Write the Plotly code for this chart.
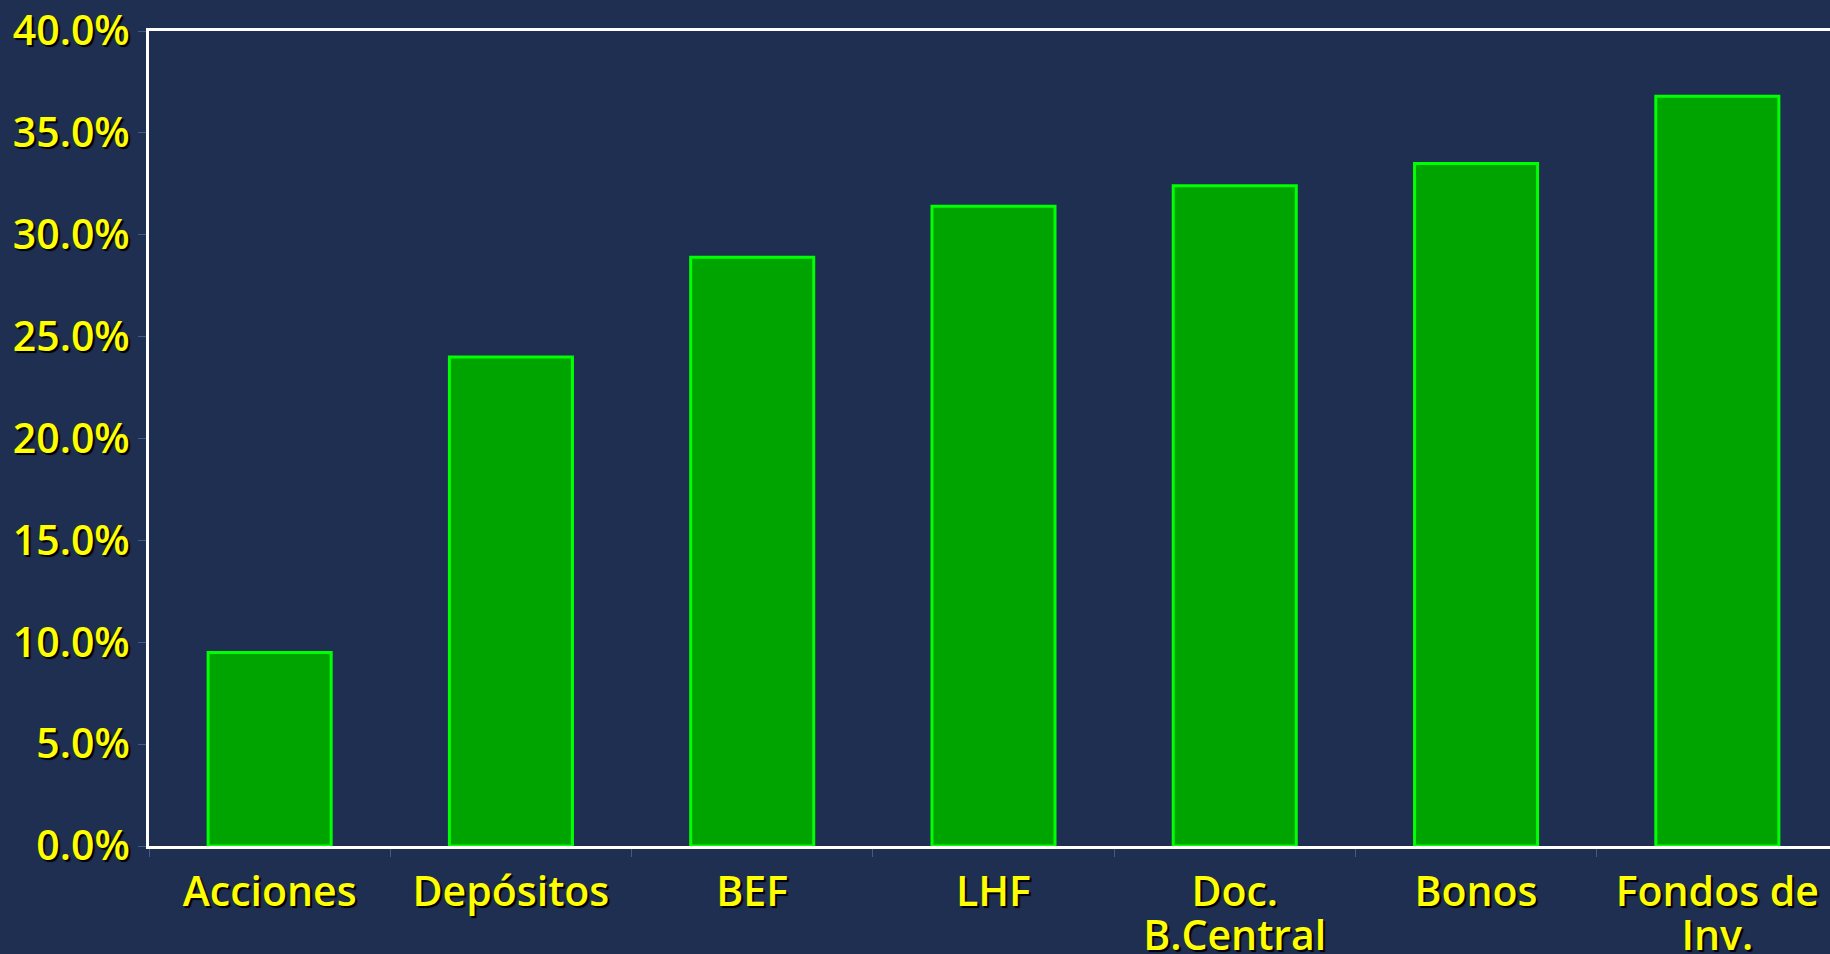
import plotly.graph_objects as go

categories = ["Acciones", "Depósitos", "BEF", "LHF", "Doc. B.Central", "Bonos", "Fondos de Inv."]
label_line1 = ["Acciones", "Depósitos", "BEF", "LHF", "Doc.", "Bonos", "Fondos de"]
label_line2 = ["", "", "", "", "B.Central", "", "Inv."]
values = [0.095, 0.240, 0.289, 0.314, 0.324, 0.335, 0.368]
y_ticks = [0, 0.05, 0.10, 0.15, 0.20, 0.25, 0.30, 0.35, 0.40]
y_tick_labels = ["0.0%", "5.0%", "10.0%", "15.0%", "20.0%", "25.0%", "30.0%", "35.0%", "40.0%"]

bg = "#1F2F52"
font_main = dict(family="Open Sans", size=41, weight=600, color="#FFFF00",
                 shadow="2px 2px 1px #000000")

positions = list(range(len(categories)))

fig = go.Figure()
fig.add_trace(go.Bar(
    x=categories,
    y=values,
    width=0.51,
    marker=dict(color="#00A400", line=dict(color="#00FF00", width=3)),
    hoverinfo="x+y",
))
# invisible helper trace so the second-line label axis is drawn
fig.add_trace(go.Scatter(
    x=positions,
    y=values,
    xaxis="x2",
    mode="markers",
    marker=dict(size=1, opacity=0),
    hoverinfo="skip",
    showlegend=False,
))

fig.update_layout(
    width=1830,
    height=954,
    paper_bgcolor=bg,
    plot_bgcolor=bg,
    margin=dict(l=149, r=0, t=31, b=108, autoexpand=False),
    showlegend=False,
    font=font_main,
    xaxis=dict(
        type="category",
        range=[-0.5, 6.467],
        automargin=False,
        showline=True,
        linecolor="#FFFFFF",
        linewidth=3,
        mirror=True,
        showgrid=False,
        zeroline=False,
        ticks="outside",
        tickson="boundaries",
        ticklen=8,
        tickwidth=1,
        tickcolor="#3E5C8C",
        tickmode="array",
        tickvals=categories,
        ticktext=label_line1,
        tickfont=font_main,
        ticklabelstandoff=8,
        fixedrange=True,
    ),
    xaxis2=dict(
        type="linear",
        overlaying="x",
        anchor="y",
        side="bottom",
        range=[-0.5, 6.467],
        automargin=False,
        showline=False,
        showgrid=False,
        zeroline=False,
        ticks="",
        tickmode="array",
        tickvals=positions,
        ticktext=label_line2,
        tickfont=font_main,
        ticklabelstandoff=62,
        fixedrange=True,
    ),
    yaxis=dict(
        range=[0, 0.40],
        automargin=False,
        tickvals=y_ticks,
        ticktext=y_tick_labels,
        showline=True,
        linecolor="#FFFFFF",
        linewidth=3,
        showgrid=False,
        zeroline=False,
        ticks="outside",
        ticklen=8,
        tickwidth=1,
        tickcolor="#3E5C8C",
        tickfont=font_main,
        fixedrange=True,
    ),
)

fig.write_html(
    "out.html",
    config={"displayModeBar": False},
    post_script="document.body.style.margin='0';document.body.style.background='#1F2F52';",
)
